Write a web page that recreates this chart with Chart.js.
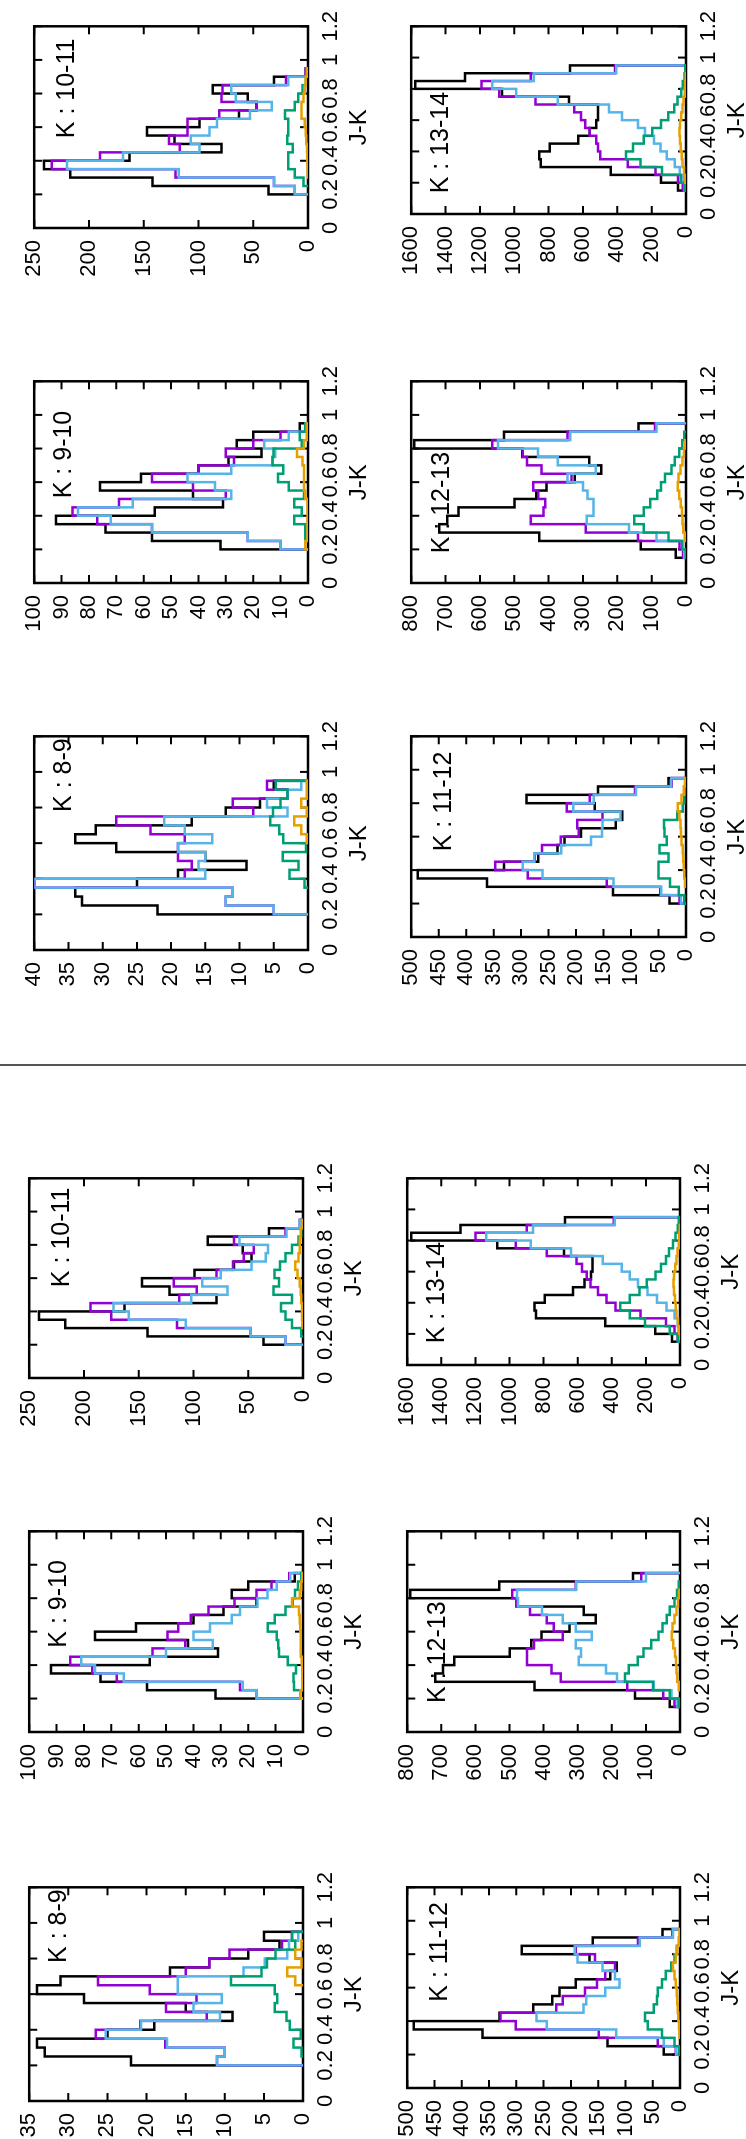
<!DOCTYPE html>
<html>
<head>
<meta charset="utf-8">
<script src="https://cdn.jsdelivr.net/npm/chart.js@4.4.1/dist/chart.umd.min.js"></script>
<style>
html, body { margin: 0; padding: 0; background: #fff; }
body { width: 746px; height: 2139px; overflow: hidden; position: relative; }
/* the figure is laid out landscape and turned a quarter turn, like the original scan */
#sheet { position: absolute; left: 0; top: 0; width: 2139px; height: 746px;
         transform-origin: 0 0; transform: translateY(2139px) rotate(-90deg); }
#sheet canvas { position: absolute; }
#divider { position: absolute; left: 1073px; top: 0; width: 2px; height: 746px; background: #555; }
</style>
</head>
<body>
<div id="sheet"><div id="divider"></div></div>
<script>
// bin edges in J-K (bins 0.05 wide)
const binEdges = [0.15, 0.2, 0.25, 0.3, 0.35, 0.4, 0.45, 0.5, 0.55, 0.6, 0.65, 0.7, 0.75, 0.8, 0.85, 0.9, 0.95];

// tick labels
const jkTicks = [0, 0.2, 0.4, 0.6, 0.8, 1, 1.2];
const ticks35 = [0, 5, 10, 15, 20, 25, 30, 35];
const ticks40 = [0, 5, 10, 15, 20, 25, 30, 35, 40];
const ticks100 = [0, 10, 20, 30, 40, 50, 60, 70, 80, 90, 100];
const ticks250 = [0, 50, 100, 150, 200, 250];
const ticks500 = [0, 50, 100, 150, 200, 250, 300, 350, 400, 450, 500];
const ticks800 = [0, 100, 200, 300, 400, 500, 600, 700, 800];
const ticks1600 = [0, 200, 400, 600, 800, 1000, 1200, 1400, 1600];

// observed counts (black), same in both figures
const obs_8_9   = [null, 22, 33, 34, 25, 19, 9, 15, 28, 34, 31, 17, 12, 7, 3, 5];
const obs_9_10  = [null, 32, 57, 74, 92, 56, 31, 42, 76, 61, 40, 29, 17, 26, 20, 3];
const obs_10_11 = [null, 36, 142, 217, 241, 163, 79, 122, 147, 99, 63, 47, 55, 87, 31, 2];
const obs_11_12 = [null, 30, 133, 362, 488, 331, 269, 234, 221, 191, 128, 116, 166, 290, 160, 32];
const obs_12_13 = [30, 132, 427, 718, 695, 662, 499, 436, 406, 324, 247, 282, 477, 791, 530, 138];
const obs_13_14 = [47, 145, 438, 845, 854, 793, 628, 560, 522, 513, 513, 681, 1072, 1576, 1287, 675];

// upper figure: purple, blue, green, orange
const up_p_8_9 = [null, 5, 12, 11, 40, 18, 17, 19, 19, 18, 23, 28, 8, 11, 3, 6];
const up_b_8_9 = [null, 5, 12, 11, 40, 15, 16, 15, 19, 14, 18, 21, 3, 6, 3, 1];
const up_g_8_9 = [null, null, null, null, 0.5, 2.7, 1.4, 3.7, 0.3, 3.6, 4.2, 5.5, 5.1, 4, 3, 4.7];
const up_o_8_9 = [null, null, null, null, null, null, null, null, null, 0.2, 1, 2, 0.2, 1, 0.2, 0.2];

const up_p_9_10 = [null, 10, 22, 57, 77, 86, 69, 30, 42, 57, 40, 27, 30, 20, 10, null];
const up_b_9_10 = [null, 10, 22, 57, 72, 84, 64, 28, 34, 44, 28, 13, 12, 16, 7, null];
const up_g_9_10 = [null, null, 1, 1, 5, 2.3, 5, 1.5, 7, 11, 9, 13, 12.6, 2.3, 3, 1];
const up_o_9_10 = [null, 1, 0.2, 0.2, 0.2, 0.2, 0.2, 1, 1.5, 1.5, 1.5, 2, 4, 1.5, 0.5, 0.5];

const up_p_10_11 = [null, 12, 31, 121, 234, 190, 117, 127, 110, 110, 81, 47, 79, 78, 20, 2];
const up_b_10_11 = [null, 12, 31, 118, 220, 169, 99, 107, 90, 83, 53, 33, 66, 70, 18, 1];
const up_g_10_11 = [null, null, 4, 12, 18, 18, 14, 19, 18, 18, 21, 12, 9, 5, 2, 1];
const up_o_10_11 = [null, null, null, 0.3, 0.5, 0.6, 1, 1.5, 2, 3, 6, 6, 4, 3, 2, 1];

const up_p_11_12 = [null, 12, 47, 144, 288, 347, 275, 262, 228, 195, 198, 152, 217, 175, 93, 26];
const up_b_11_12 = [null, 9, 45, 132, 261, 297, 276, 227, 173, 153, 152, 119, 205, 168, 91, 27];
const up_g_11_12 = [null, 3, 13, 29, 50, 50, 32, 48, 35, 39, 40, 16, 6, 3, 2, null];
const up_o_11_12 = [null, null, null, 2, 3, 4, 5, 6, 8, 9, 10, 12, 15, 8, 4, 2];

const up_p_12_13 = [9, 19, 140, 292, 452, 415, 410, 430, 445, 333, 421, 463, 475, 564, 345, 90];
const up_b_12_13 = [5, 11, 86, 166, 289, 269, 269, 287, 300, 345, 263, 373, 431, 547, 337, 86];
const up_g_12_13 = [0.5, 11, 51, 123, 151, 123, 104, 84, 73, 61, 42, 33, 20, 11, 5, null];
const up_o_12_13 = [null, null, 4, 8, 10, 12, 15, 20, 24, 22, 16, 10, 6, 3, null, null];

const up_p_13_14 = [19, 47, 177, 339, 500, 513, 522, 560, 587, 612, 650, 876, 1087, 1190, 904, 414];
const up_b_13_14 = [9, 19, 37, 65, 112, 149, 186, 239, 280, 373, 448, 746, 988, 1128, 886, 406];
const up_g_13_14 = [9, 30, 140, 265, 350, 308, 246, 196, 145, 103, 69, 50, 28, 19, 9, 4];
const up_o_13_14 = [null, 5, 12, 20, 25, 30, 35, 38, 35, 28, 20, 14, 8, 4, 2, null];

// lower figure: purple, blue, green, orange
const lo_p_8_9 = [null, 11, 10, 17.6, 26.5, 20.8, 12.3, 17.5, 13.6, 19.6, 26.2, 15, 12, 9.4, 2.7, 1.4];
const lo_b_8_9 = [null, 11, 10, 17.4, 25.2, 20.7, 10.6, 14, 10.4, 16, 16, 7.6, 4.9, 2, 1.8, 0.6];
const lo_g_8_9 = [null, null, 0.2, 1.2, 0.3, 1.7, 2.1, 3.6, 3.3, 3.6, 9.2, 5.3, 4.6, 3.5, 1, 1.4];
const lo_o_8_9 = [null, null, null, null, null, null, null, null, null, null, 1, 2, 0.2, 1, 0.2, null];

const lo_p_9_10 = [null, 17, 23, 68, 77, 85, 55, 43, 49.5, 45.6, 41, 34.5, 25, 17, 11.5, 5];
const lo_b_9_10 = [null, 17, 22, 65.5, 76, 81, 50, 33, 40, 34, 26, 23, 16.6, 13, 9.6, 4.7];
const lo_g_9_10 = [null, null, 3.3, 3.5, 2.6, 5.6, 8.8, 9, 9.6, 12.9, 10.3, 6.4, 3.7, 2.9, 1.8, 0.6];
const lo_o_9_10 = [null, 1, 0.3, 0.3, 0.3, 0.5, 0.8, 0.8, 0.8, 1, 1.2, 1.5, 4, 1.2, 0.6, 0.3];

const lo_p_10_11 = [null, 16, 48, 115, 175, 194, 113, 97, 118, 79, 64, 54, 45, 63, 16, 3];
const lo_b_10_11 = [null, 16, 48, 107, 159, 173, 102, 69, 92, 75, 47, 34, 32, 58, 15, 3];
const lo_g_10_11 = [null, null, 1.5, 10, 16, 20, 10, 27, 22, 26, 21, 16, 10, 4, 1.5, null];
const lo_o_10_11 = [null, null, null, 0.5, 1, 1, 1.5, 2, 3, 5, 7, 4, 3, 3, 2, 1];

const lo_p_11_12 = [null, 8, 41, 149, 301, 329, 227, 215, 174, 152, 137, 119, 156, 191, 77, 14];
const lo_b_11_12 = [null, 7, 30, 117, 244, 263, 177, 172, 137, 111, 119, 142, 188, 193, 74, 13];
const lo_g_11_12 = [null, 2, 10, 33, 59, 64, 48, 42, 41, 33, 26, 16, 10, 6, 2, null];
const lo_o_11_12 = [null, null, null, 1, 2, 3, 4, 5, 6, 8, 10, 13, 8, 5, 2, 1];

const lo_p_12_13 = [16, 49, 155, 350, 377, 449, 449, 428, 344, 370, 391, 440, 480, 492, 306, 114];
const lo_b_12_13 = [7, 25, 77, 185, 217, 297, 290, 306, 259, 306, 344, 405, 475, 478, 304, 100];
const lo_g_12_13 = [4, 30, 79, 161, 150, 124, 107, 84, 63, 51, 39, 30, 16, 9, 4, null];
const lo_o_12_13 = [null, null, 4, 8, 10, 12, 15, 20, 24, 22, 16, 10, 6, 3, null, null];

const lo_p_13_14 = [13, 32, 82, 232, 378, 431, 481, 525, 547, 575, 607, 781, 963, 1199, 899, 388];
const lo_b_13_14 = [5, 9, 13, 32, 79, 135, 191, 247, 294, 341, 453, 640, 875, 1137, 862, 382];
const lo_g_13_14 = [13, 60, 206, 294, 350, 294, 238, 195, 144, 112, 82, 64, 41, 26, 13, 7];
const lo_o_13_14 = [null, 5, 12, 20, 25, 30, 35, 38, 35, 28, 20, 14, 8, 4, 2, null];

const FONT = '"Liberation Sans", Arial, Helvetica, sans-serif';
const colours = ['#9400d3', '#56b4e9', '#009e73', '#e69f00'];   // purple, blue, green, orange

// plot rectangles are [left, right, top, bottom] on the landscape sheet
const panels = [
  { label: 'K : 8-9',   rect: [1189, 1406, 23, 308], at: [0.646, 0.111], ticks: ticks40,   obs: obs_8_9,   models: [up_p_8_9, up_b_8_9, up_g_8_9, up_o_8_9] },
  { label: 'K : 9-10',  rect: [1556, 1761, 23, 308], at: [0.42, 0.111],  ticks: ticks100,  obs: obs_9_10,  models: [up_p_9_10, up_b_9_10, up_g_9_10, up_o_9_10] },
  { label: 'K : 10-11', rect: [1911, 2116, 23, 308], at: [0.445, 0.12],  ticks: ticks250,  obs: obs_10_11, models: [up_p_10_11, up_b_10_11, up_g_10_11, up_o_10_11] },
  { label: 'K : 11-12', rect: [1202, 1406, 400, 686], at: [0.427, 0.121], ticks: ticks500, obs: obs_11_12, models: [up_p_11_12, up_b_11_12, up_g_11_12, up_o_11_12] },
  { label: 'K : 12-13', rect: [1556, 1761, 400, 686], at: [0.147, 0.114], ticks: ticks800, obs: obs_12_13, models: [up_p_12_13, up_b_12_13, up_g_12_13, up_o_12_13] },
  { label: 'K : 13-14', rect: [1925, 2116, 400, 686], at: [0.11, 0.11],  ticks: ticks1600, obs: obs_13_14, models: [up_p_13_14, up_b_13_14, up_g_13_14, up_o_13_14] },

  { label: 'K : 8-9',   rect: [38, 255, 18, 303],   at: [0.646, 0.111], ticks: ticks35,   obs: obs_8_9,   models: [lo_p_8_9, lo_b_8_9, lo_g_8_9, lo_o_8_9] },
  { label: 'K : 9-10',  rect: [407, 611, 18, 303],  at: [0.42, 0.111],  ticks: ticks100,  obs: obs_9_10,  models: [lo_p_9_10, lo_b_9_10, lo_g_9_10, lo_o_9_10] },
  { label: 'K : 10-11', rect: [761, 964, 18, 303],  at: [0.455, 0.12],  ticks: ticks250,  obs: obs_10_11, models: [lo_p_10_11, lo_b_10_11, lo_g_10_11, lo_o_10_11] },
  { label: 'K : 11-12', rect: [51, 255, 396, 680],  at: [0.43, 0.121],  ticks: ticks500,  obs: obs_11_12, models: [lo_p_11_12, lo_b_11_12, lo_g_11_12, lo_o_11_12] },
  { label: 'K : 12-13', rect: [407, 611, 396, 680], at: [0.145, 0.114], ticks: ticks800,  obs: obs_12_13, models: [lo_p_12_13, lo_b_12_13, lo_g_12_13, lo_o_12_13] },
  { label: 'K : 13-14', rect: [774, 964, 396, 680], at: [0.116, 0.11],  ticks: ticks1600, obs: obs_13_14, models: [lo_p_13_14, lo_b_13_14, lo_g_13_14, lo_o_13_14] }
];

// margins round each plot box inside its canvas
const LM = 60, RM = 22, TM = 14, BM = 66;

// histogram outline: rises from zero at the first bin, falls back to zero after the last
function stepPoints(counts) {
  const pts = [];
  for (let i = 0; i < counts.length; i++) {
    const v = counts[i];
    if (v === null) continue;
    if (i === 0 || counts[i - 1] === null) pts.push({ x: binEdges[i], y: 0 });
    pts.push({ x: binEdges[i], y: v });
    if (i === counts.length - 1 || counts[i + 1] === null) pts.push({ x: binEdges[i + 1], y: 0 });
  }
  return pts;
}

// gnuplot look: closed border, inward ticks on all four sides, panel label
const gnuFrame = {
  id: 'gnuFrame',
  beforeDatasetsDraw(chart, args, opts) {
    const { ctx, chartArea: a, scales: { x, y } } = chart;
    ctx.save();
    ctx.fillStyle = '#000';
    ctx.font = '25px ' + FONT;
    ctx.textBaseline = 'middle';
    ctx.textAlign = 'left';
    ctx.fillText(opts.text, a.left + opts.at[0] * (a.right - a.left), a.top + opts.at[1] * (a.bottom - a.top));

    ctx.strokeStyle = '#000';
    ctx.lineWidth = 2;
    ctx.beginPath();
    x.ticks.forEach(t => {
      const p = x.getPixelForValue(t.value);
      ctx.moveTo(p, a.bottom); ctx.lineTo(p, a.bottom - 8);
      ctx.moveTo(p, a.top); ctx.lineTo(p, a.top + 8);
    });
    y.ticks.forEach(t => {
      const p = y.getPixelForValue(t.value);
      ctx.moveTo(a.left, p); ctx.lineTo(a.left + 8, p);
      ctx.moveTo(a.right, p); ctx.lineTo(a.right - 8, p);
    });
    ctx.stroke();
    ctx.lineWidth = 2.5;
    ctx.strokeRect(a.left, a.top, a.right - a.left, a.bottom - a.top);
    ctx.restore();
  }
};

const sheet = document.getElementById('sheet');

panels.forEach(p => {
  const [l, r, t, b] = p.rect;
  const canvas = document.createElement('canvas');
  const w = (r - l) + LM + RM;
  const h = (b - t) + TM + BM;
  canvas.width = w; canvas.height = h;
  canvas.style.width = w + 'px'; canvas.style.height = h + 'px';
  canvas.style.left = (l - LM) + 'px';
  canvas.style.top = (t - TM) + 'px';
  sheet.appendChild(canvas);

  const series = [p.obs].concat(p.models);
  const lineColours = ['#000000'].concat(colours);
  const datasets = series.map((s, i) => ({
    data: stepPoints(s),
    borderColor: lineColours[i],
    borderWidth: 2.5,
    pointRadius: 0,
    fill: false,
    stepped: true,
    tension: 0,
    order: series.length - i     // later series drawn over earlier ones
  }));

  const yTicks = p.ticks;
  new Chart(canvas, {
    type: 'line',
    data: { datasets },
    plugins: [gnuFrame],
    options: {
      responsive: false,
      animation: false,
      devicePixelRatio: 1,
      events: [],
      layout: { padding: { left: 0, top: TM, right: RM, bottom: 0 } },
      plugins: {
        legend: { display: false },
        tooltip: { enabled: false },
        gnuFrame: { text: p.label, at: p.at }
      },
      scales: {
        x: {
          type: 'linear', min: 0, max: 1.2,
          afterBuildTicks: s => { s.ticks = jkTicks.map(v => ({ value: v })); },
          afterFit: s => { s.height = BM; },
          grid: { display: false, drawTicks: false },
          border: { display: false },
          ticks: { color: '#000', font: { family: FONT, size: 22 }, padding: 10,
                   maxRotation: 0, autoSkip: false, callback: v => String(v) },
          title: { display: true, text: 'J-K', color: '#000', font: { family: FONT, size: 24 }, padding: 0 }
        },
        y: {
          type: 'linear', min: 0, max: yTicks[yTicks.length - 1],
          afterBuildTicks: s => { s.ticks = yTicks.map(v => ({ value: v })); },
          afterFit: s => { s.width = LM; },
          grid: { display: false, drawTicks: false },
          border: { display: false },
          ticks: { color: '#000', font: { family: FONT, size: 22 }, padding: 12,
                   autoSkip: false, callback: v => String(v) }
        }
      }
    }
  });
});
</script>
</body>
</html>
